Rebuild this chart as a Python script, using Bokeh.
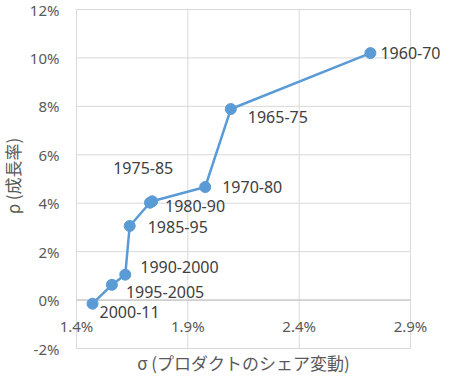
import math
from bokeh.plotting import figure
from bokeh.models import ColumnDataSource, Range1d
from bokeh.core.properties import value
from bokeh.embed import file_html
from bokeh.resources import INLINE

# ---- data (percent) ----
periods = ["1960-70", "1965-75", "1970-80", "1975-85", "1980-90",
           "1985-95", "1990-2000", "1995-2005", "2000-11"]
sigma = [2.72, 2.093, 1.978, 1.74, 1.73, 1.639, 1.619, 1.559, 1.472]
rho = [10.2, 7.89, 4.67, 4.08, 4.02, 3.06, 1.05, 0.63, -0.15]

x_ticks = [1.4, 1.9, 2.4, 2.9]
x_tick_labels = ["1.4%", "1.9%", "2.4%", "2.9%"]
y_ticks = [-2, 0, 2, 4, 6, 8, 10, 12]
y_tick_labels = ["-2%", "0%", "2%", "4%", "6%", "8%", "10%", "12%"]

x_title = "σ (プロダクトのシェア変動)"
y_title = "ρ (成長率)"

# label placement (screen px relative to each point; dy positive = down)
lab_dx = [10, 17, 17, -39, 15, 18, 15, 14, 7]
lab_dy = [0, 8, 0, -33, 3, 1, -8, 7, 8]

BLUE = "#5b9bd5"
GRID = "#d9d9d9"
TXT = "#595959"

# ---- layout: figure size and plot-area margins (px) ----
W, H = 444, 376
ML, MR, MT, MB = 76, 34, 9, 28
xmin, xmax = x_ticks[0], x_ticks[-1]
ymin, ymax = y_ticks[0], y_ticks[-1]
xs = (xmax - xmin) / (W - ML - MR)
ys = (ymax - ymin) / (H - MT - MB)

p = figure(width=W, height=H,
           x_range=Range1d(xmin - ML * xs, xmax + MR * xs),
           y_range=Range1d(ymin - MB * ys, ymax + MT * ys),
           output_backend="svg", toolbar_location=None,
           min_border=0)
p.outline_line_color = None
p.axis.visible = False
p.grid.visible = False
p.background_fill_color = "white"
p.border_fill_color = "white"

# gridlines
p.segment(x0=x_ticks, x1=x_ticks, y0=[ymin] * len(x_ticks), y1=[ymax] * len(x_ticks),
          line_color=GRID, line_width=1)
p.segment(x0=[xmin] * len(y_ticks), x1=[xmax] * len(y_ticks), y0=y_ticks, y1=y_ticks,
          line_color=GRID, line_width=1)
# zero line (horizontal axis)
p.segment(x0=[xmin], x1=[xmax], y0=[0], y1=[0], line_color="#bfbfbf", line_width=1)

# tick labels
p.text(x=[xmin] * len(y_ticks), y=y_ticks, text=y_tick_labels,
       text_align="right", text_baseline="middle", x_offset=-17,
       text_font=value("Noto Sans"), text_font_size="15px", text_color=TXT)
p.text(x=x_ticks, y=[0] * len(x_ticks), text=x_tick_labels,
       text_align="center", text_baseline="middle", y_offset=26,
       text_font=value("Noto Sans"), text_font_size="15px", text_color=TXT)

# axis titles
p.text(x=[(xmin + xmax) / 2], y=[ymin], text=[x_title],
       text_align="center", text_baseline="middle", y_offset=14,
       text_font=value("Noto Sans CJK JP"), text_font_size="17px", text_color=TXT)
p.text(x=[xmin], y=[(ymin + ymax) / 2], text=[y_title], angle=math.pi / 2,
       text_align="center", text_baseline="middle", x_offset=-64, y_offset=-3,
       text_font=value("Noto Sans CJK JP"), text_font_size="17px", text_color=TXT)

# series
src = ColumnDataSource(dict(x=sigma, y=rho, t=periods, dx=lab_dx, dy=lab_dy))
p.line("x", "y", source=src, line_color=BLUE, line_width=2.5)
p.scatter("x", "y", source=src, size=11, fill_color=BLUE, line_color=BLUE)
p.text("x", "y", text="t", source=src, x_offset="dx", y_offset="dy",
       text_align="left", text_baseline="middle",
       text_font=value("Noto Sans"), text_font_size="16px", text_color="#404040")

open("out.html", "w").write(file_html(p, INLINE))
